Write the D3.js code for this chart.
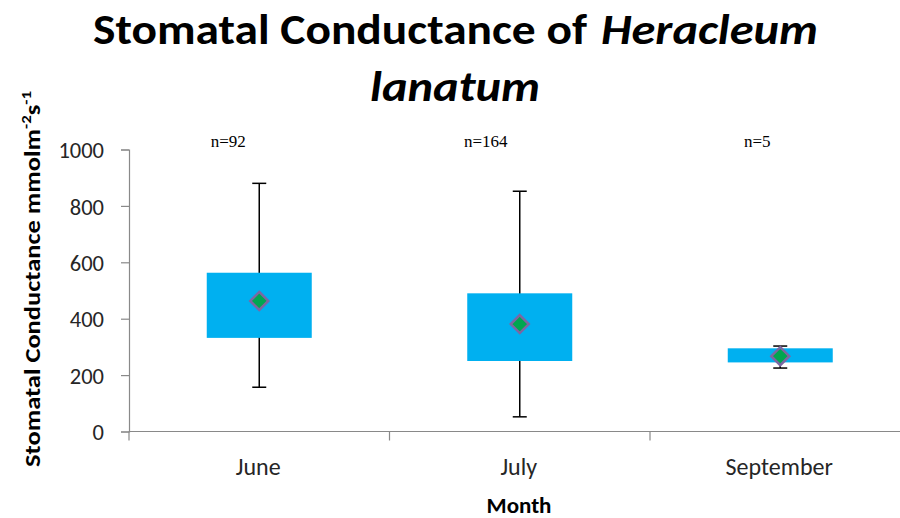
<!DOCTYPE html>
<html>
<head>
<meta charset="utf-8">
<script src="https://cdn.jsdelivr.net/npm/d3@7"></script>
<style>
  html, body { margin: 0; padding: 0; background: #fff; }
  svg { display: block; }
</style>
</head>
<body>
<svg id="chart" width="900" height="518"></svg>
<script>
// Stomatal conductance box summary per sampling month
const months      = ["June", "July", "September"];
const whiskerLow  = [157, 52, 225];
const boxLow      = [332, 250, 245];
const boxHigh     = [563, 490, 295];
const whiskerHigh = [880, 852, 303];
const means       = [463, 381, 267];
const sampleSizes = ["n=92", "n=164", "n=5"];
const yTicks      = [0, 200, 400, 600, 800, 1000];

const svg = d3.select("#chart");
const sans = "Carlito, Lato, 'Open Sans', sans-serif";
const axisGrey = "#898989";

// plot area (the category axis runs past the right edge of the page)
const plot = { left: 129, right: 910.5, top: 149.5, bottom: 431.5 };

const y = d3.scaleLinear().domain([0, 1000]).range([plot.bottom, plot.top]);
const x = d3.scaleBand().domain(months).range([plot.left, plot.right]).padding(0);

const rows = months.map((m, i) => ({
  month: m, wLo: whiskerLow[i], bLo: boxLow[i], bHi: boxHigh[i],
  wHi: whiskerHigh[i], mean: means[i], n: sampleSizes[i], i
}));

// ---- title ----
const title = svg.append("g").attr("fill", "#000").attr("font-family", sans).attr("font-weight", 900);
title.append("text").attr("x", 93).attr("y", 44).attr("font-size", 43)
  .attr("textLength", 494).attr("lengthAdjust", "spacingAndGlyphs")
  .text("Stomatal Conductance of");
title.append("text").attr("x", 601).attr("y", 44).attr("font-size", 43).attr("font-style", "italic")
  .attr("textLength", 217).attr("lengthAdjust", "spacingAndGlyphs")
  .text("Heracleum");
title.append("text").attr("x", 370).attr("y", 101).attr("font-size", 43).attr("font-style", "italic")
  .attr("textLength", 170).attr("lengthAdjust", "spacingAndGlyphs")
  .text("lanatum");

// ---- y axis ----
const yAxis = svg.append("g")
  .attr("transform", `translate(${plot.left},0)`)
  .call(d3.axisLeft(y).tickValues(yTicks).tickSize(8).tickPadding(17).tickFormat(d3.format("d")));
yAxis.select(".domain").attr("stroke", axisGrey).attr("stroke-width", 1.2);
yAxis.selectAll(".tick line").attr("stroke", axisGrey).attr("stroke-width", 1.2);
yAxis.selectAll(".tick text")
  .attr("font-family", sans).attr("font-size", 22.5).attr("fill", "#262626")
  .attr("dy", "0.36em");

// ---- x axis: category boundaries as tick marks ----
const xAxisG = svg.append("g").attr("transform", `translate(0,${plot.bottom})`);
xAxisG.append("line")
  .attr("x1", plot.left).attr("x2", plot.right)
  .attr("stroke", axisGrey).attr("stroke-width", 1.2);
const bounds = months.map(m => x(m)).concat([x(months[months.length - 1]) + x.bandwidth()]);
xAxisG.selectAll("line.bound").data(bounds).join("line")
  .attr("class", "bound")
  .attr("x1", d => d).attr("x2", d => d)
  .attr("y1", 0).attr("y2", 9)
  .attr("stroke", axisGrey).attr("stroke-width", 1.2);
xAxisG.selectAll("text.cat").data(months).join("text")
  .attr("class", "cat")
  .attr("x", d => x(d) + x.bandwidth() / 2 - 1)
  .attr("y", 43)
  .attr("text-anchor", "middle")
  .attr("font-family", sans).attr("font-size", 24).attr("fill", "#262626")
  .text(d => d);

// ---- axis titles ----
svg.append("text")
  .attr("x", 519).attr("y", 513)
  .attr("text-anchor", "middle")
  .attr("font-family", sans).attr("font-weight", 700).attr("font-size", 23)
  .text("Month");

const yTitle = svg.append("text")
  .attr("transform", "translate(40,279) rotate(-90)")
  .attr("text-anchor", "middle")
  .attr("font-family", sans).attr("font-weight", 700).attr("font-size", 22)
  .attr("textLength", 376).attr("lengthAdjust", "spacingAndGlyphs");
yTitle.append("tspan").text("Stomatal Conductance mmolm");
yTitle.append("tspan").attr("font-size", 14).attr("dy", -9).text("-2");
yTitle.append("tspan").attr("font-size", 22).attr("dy", 9).text("s");
yTitle.append("tspan").attr("font-size", 14).attr("dy", -9).text("-1");

// ---- boxes ----
const boxW = 105;
const capW = 14;
const g = svg.append("g");
const cx = d => x(d.month) + x.bandwidth() / 2;

// whiskers (behind the boxes)
g.selectAll("line.whisker").data(rows).join("line")
  .attr("class", "whisker")
  .attr("x1", cx).attr("x2", cx)
  .attr("y1", d => y(d.wLo)).attr("y2", d => y(d.wHi))
  .attr("stroke", "#000").attr("stroke-width", 1.5);
["wLo", "wHi"].forEach(k => {
  g.selectAll(`line.cap-${k}`).data(rows).join("line")
    .attr("class", `cap-${k}`)
    .attr("x1", d => cx(d) - capW / 2).attr("x2", d => cx(d) + capW / 2)
    .attr("y1", d => y(d[k])).attr("y2", d => y(d[k]))
    .attr("stroke", "#000").attr("stroke-width", 1.5);
});

g.selectAll("rect.box").data(rows).join("rect")
  .attr("class", "box")
  .attr("x", d => cx(d) - boxW / 2)
  .attr("width", boxW)
  .attr("y", d => y(d.bHi))
  .attr("height", d => y(d.bLo) - y(d.bHi))
  .attr("fill", "#00b0f0");

// mean markers
const dia = 9;
g.selectAll("path.mean").data(rows).join("path")
  .attr("class", "mean")
  .attr("d", d => {
    const px = cx(d), py = y(d.mean);
    return `M${px},${py - dia}L${px + dia},${py}L${px},${py + dia}L${px - dia},${py}Z`;
  })
  .attr("fill", "#00a650")
  .attr("stroke", "#7b67a3").attr("stroke-width", 2.5);

// ---- sample size labels ----
const nNudge = [-31, -34, -23];
svg.selectAll("text.n").data(rows).join("text")
  .attr("class", "n")
  .attr("x", d => cx(d) + nNudge[d.i])
  .attr("y", 147)
  .attr("text-anchor", "middle")
  .attr("font-family", "'Liberation Serif', 'Times New Roman', serif")
  .attr("font-size", 17)
  .text(d => d.n);
</script>
</body>
</html>
